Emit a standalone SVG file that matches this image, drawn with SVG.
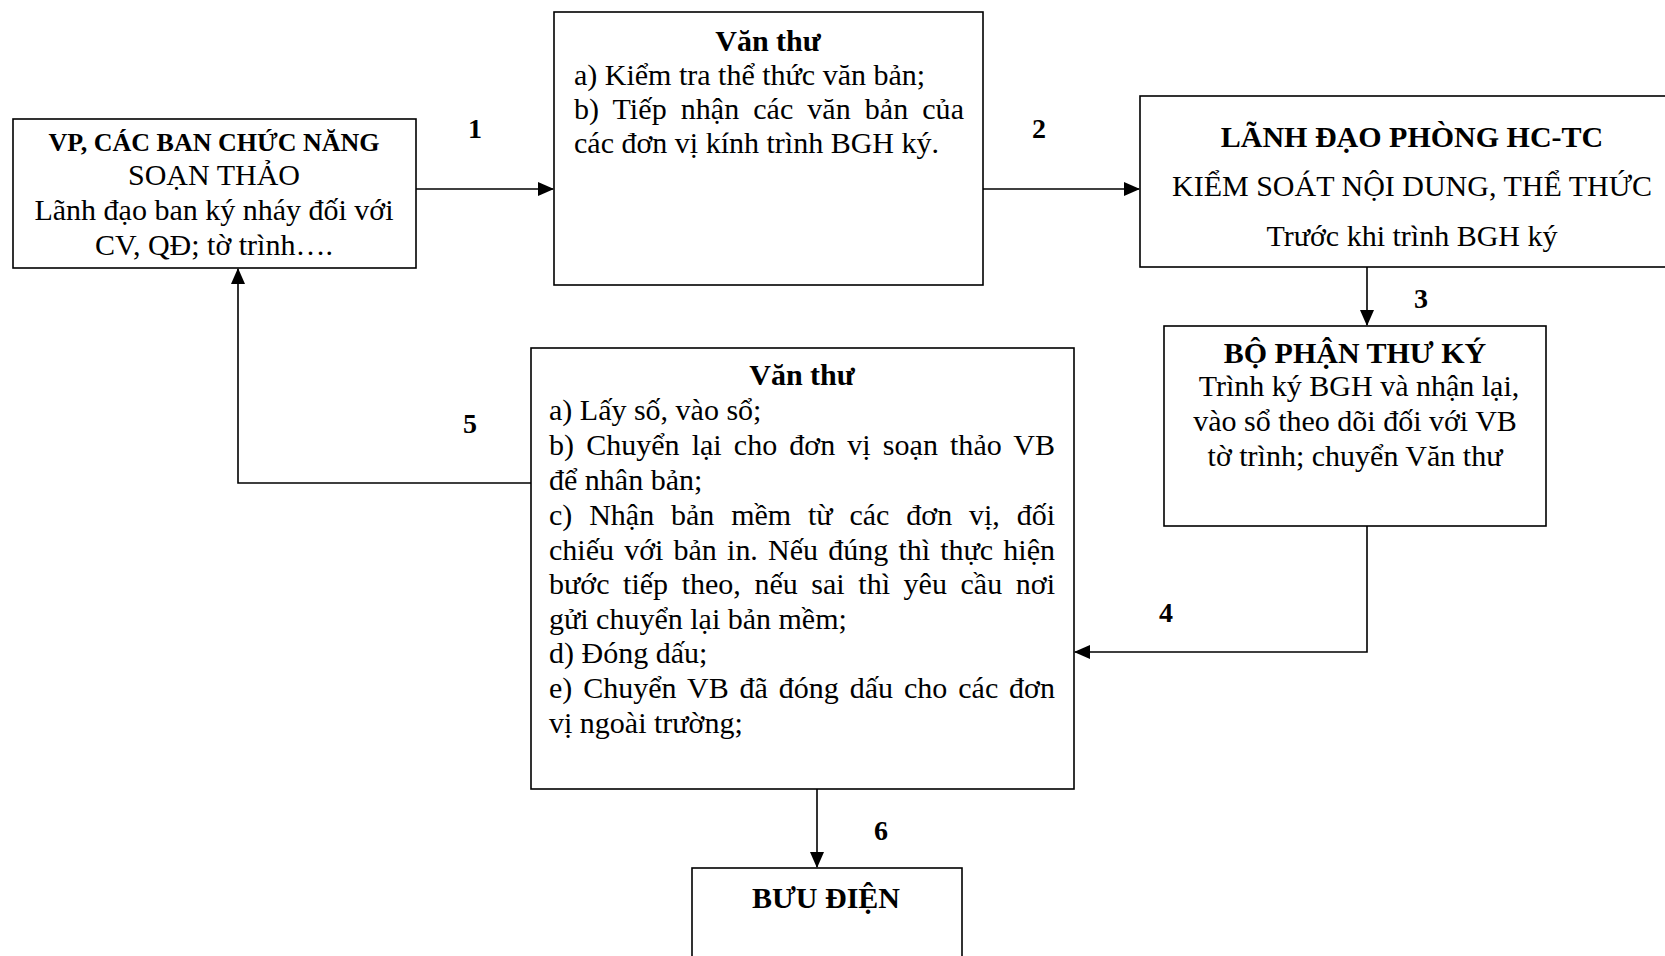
<svg xmlns="http://www.w3.org/2000/svg" width="1665" height="956" viewBox="0 0 1665 956">
<defs>
<style>
.box{fill:#fff;stroke:#000;stroke-width:1.6}
.t{font-family:"Liberation Serif","Times New Roman",serif;font-size:30px;fill:#000}
.b{font-weight:bold}
.c{text-anchor:middle}
.h1{font-size:26px}
.lbl{font-family:"Liberation Serif","Times New Roman",serif;font-size:28px;font-weight:bold;text-anchor:middle;fill:#000}
.edge{fill:none;stroke:#000;stroke-width:1.6}
</style>
<marker id="arr" markerUnits="userSpaceOnUse" markerWidth="16" markerHeight="14" refX="15" refY="7" orient="auto">
<path d="M0,0 L16,7 L0,14 Z" fill="#000"/>
</marker>
<clipPath id="c1"><rect x="13" y="119" width="403" height="146"/></clipPath>
</defs>
<rect width="1665" height="956" fill="#fff"/>

<g id="n1">
<rect class="box" x="13" y="119" width="403" height="149"/>
<g clip-path="url(#c1)">
<text class="t b c h1" x="214" y="151">VP, CÁC BAN CHỨC NĂNG</text>
<text class="t c" x="214" y="185">SOẠN THẢO</text>
<text class="t c" x="214" y="220">Lãnh đạo ban ký nháy đối với</text>
<text class="t c" x="214" y="255">CV, QĐ; tờ trình….</text>
</g>
</g>

<g id="n2">
<rect class="box" x="554" y="12" width="429" height="273"/>
<text class="t b c" x="768" y="51">Văn thư</text>
<text class="t" x="574" y="85">a) Kiểm tra thể thức văn bản;</text>
<text class="t" x="574" y="119" word-spacing="6.4" textLength="390" lengthAdjust="spacing">b) Tiếp nhận các văn bản của</text>
<text class="t" x="574" y="153">các đơn vị kính trình BGH ký.</text>
</g>

<g id="n3">
<rect class="box" x="1140" y="96" width="580" height="171"/>
<text class="t b c" x="1412" y="147">LÃNH ĐẠO PHÒNG HC-TC</text>
<text class="t c" x="1412" y="196">KIỂM SOÁT NỘI DUNG, THỂ THỨC</text>
<text class="t c" x="1412" y="246">Trước khi trình BGH ký</text>
</g>

<g id="n4">
<rect class="box" x="1164" y="326" width="382" height="200"/>
<text class="t b c" x="1355" y="363">BỘ PHẬN THƯ KÝ</text>
<text class="t c" x="1359" y="396">Trình ký BGH và nhận lại,</text>
<text class="t c" x="1355" y="431">vào sổ theo dõi đối với VB</text>
<text class="t c" x="1355" y="466">tờ trình; chuyển Văn thư</text>
</g>

<g id="n5">
<rect class="box" x="531" y="348" width="543" height="441"/>
<text class="t b c" x="802" y="385">Văn thư</text>
<text class="t" x="549" y="420">a) Lấy số, vào sổ;</text>
<text class="t" x="549" y="455" word-spacing="4.6" textLength="506" lengthAdjust="spacing">b) Chuyển lại cho đơn vị soạn thảo VB</text>
<text class="t" x="549" y="490">để nhân bản;</text>
<text class="t" x="549" y="525" word-spacing="9.3" textLength="506" lengthAdjust="spacing">c) Nhận bản mềm từ các đơn vị, đối</text>
<text class="t" x="549" y="560" word-spacing="2.7" textLength="506" lengthAdjust="spacing">chiếu với bản in. Nếu đúng thì thực hiện</text>
<text class="t" x="549" y="594" word-spacing="6.1" textLength="506" lengthAdjust="spacing">bước tiếp theo, nếu sai thì yêu cầu nơi</text>
<text class="t" x="549" y="629">gửi chuyển lại bản mềm;</text>
<text class="t" x="549" y="663">d) Đóng dấu;</text>
<text class="t" x="549" y="698" word-spacing="3.4" textLength="506" lengthAdjust="spacing">e) Chuyển VB đã đóng dấu cho các đơn</text>
<text class="t" x="549" y="733">vị ngoài trường;</text>
</g>

<g id="n6">
<rect class="box" x="692" y="868" width="270" height="120"/>
<text class="t b c" x="826" y="908">BƯU ĐIỆN</text>
</g>

<g id="edges">
<path class="edge" d="M416,189 H553" marker-end="url(#arr)"/>
<path class="edge" d="M983,189 H1139" marker-end="url(#arr)"/>
<path class="edge" d="M1367,267 V325" marker-end="url(#arr)"/>
<path class="edge" d="M1367,526 V652 H1075" marker-end="url(#arr)"/>
<path class="edge" d="M531,483 H238 V269" marker-end="url(#arr)"/>
<path class="edge" d="M817,789 V867" marker-end="url(#arr)"/>
<text class="lbl" x="475" y="138">1</text>
<text class="lbl" x="1039" y="138">2</text>
<text class="lbl" x="1421" y="308">3</text>
<text class="lbl" x="1166" y="622">4</text>
<text class="lbl" x="470" y="433">5</text>
<text class="lbl" x="881" y="840">6</text>
</g>
</svg>
